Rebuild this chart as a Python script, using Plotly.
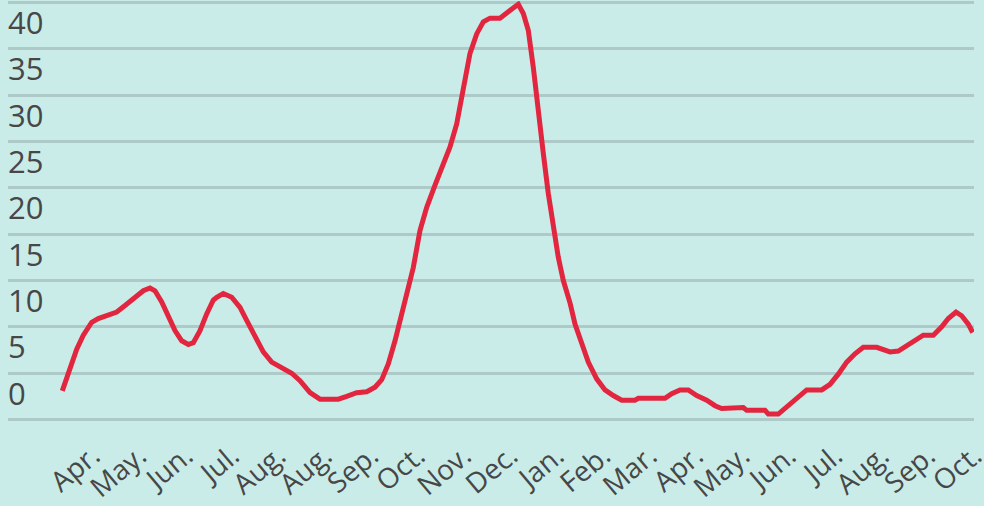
import plotly.graph_objects as go

# x position in months (0 = first "Apr." tick)
month_pos = [-0.468, -0.338, -0.157, -0.015, 0.166, 0.308, 0.489, 0.705, 0.884, 1.099,
             1.278, 1.422, 1.530, 1.675, 1.817, 1.961, 2.106, 2.248, 2.356, 2.500,
             2.644, 2.787, 2.860, 3.002, 3.183, 3.362, 3.506, 3.685, 3.864, 4.045,
             4.261, 4.476, 4.655, 4.871, 5.086, 5.302, 5.481, 5.662, 5.877, 6.093,
             6.271, 6.416, 6.558, 6.703, 6.810, 6.955, 7.097, 7.241, 7.386, 7.565,
             7.744, 7.888, 8.032, 8.174, 8.319, 8.463, 8.606, 8.750, 8.965, 9.144,
             9.360, 9.468, 9.575, 9.683, 9.791, 9.899, 10.006, 10.114, 10.222, 10.330,
             10.474, 10.582, 10.726, 10.868, 11.049, 11.228, 11.407, 11.588, 11.875, 11.946,
             12.521, 12.666, 12.845, 13.024, 13.205, 13.420, 13.599, 13.743, 14.209, 14.282,
             14.677, 14.748, 14.963, 15.108, 15.287, 15.575, 15.899, 16.078, 16.256, 16.437,
             16.616, 16.795, 17.084, 17.226, 17.371, 17.549, 17.731, 17.946, 18.088, 18.304,
             18.485, 18.627, 18.793, 18.916, 19.058, 19.153]
values = [3.1, 4.9, 7.6, 9.1, 10.5, 10.9, 11.2, 11.6, 12.3, 13.2,
          13.9, 14.2, 13.9, 12.7, 11.0, 9.6, 8.5, 8.1, 8.3, 9.6,
          11.4, 12.9, 13.2, 13.6, 13.2, 12.1, 10.7, 9.1, 7.3, 6.2,
          5.6, 5.0, 4.2, 2.9, 2.2, 2.2, 2.2, 2.5, 2.9, 3.0,
          3.5, 4.3, 6.0, 8.5, 10.7, 13.6, 16.4, 20.4, 22.9, 25.3,
          27.6, 29.4, 31.9, 35.9, 39.5, 41.6, 42.9, 43.3, 43.3, 44.0,
          44.8, 43.8, 42.0, 38.0, 33.0, 28.7, 24.4, 20.8, 17.5, 15.0,
          12.6, 10.3, 8.2, 6.2, 4.4, 3.2, 2.6, 2.1, 2.1, 2.3,
          2.3, 2.8, 3.2, 3.2, 2.6, 2.1, 1.5, 1.2, 1.3, 1.0,
          1.0, 0.6, 0.6, 1.2, 2.1, 3.2, 3.2, 3.8, 4.9, 6.2,
          7.1, 7.8, 7.8, 7.5, 7.3, 7.4, 8.0, 8.7, 9.1, 9.1,
          10.0, 10.9, 11.6, 11.2, 10.3, 9.4]

tick_labels = ["Apr.", "May.", "Jun.", "Jul.", "Aug.", "Aug.", "Sep.", "Oct.", "Nov.", "Dec.",
               "Jan.", "Feb.", "Mar.", "Apr.", "May.", "Jun.", "Jul.", "Aug.", "Sep.", "Oct."]
tick_pos = list(range(len(tick_labels)))

y_ticks = [0, 5, 10, 15, 20, 25, 30, 35, 40, 45]
y_tick_text = ["0", "5", "10", "15", "20", "25", "30", "35", "40", ""]

BG = "#c9ece8"
GRID = "#adc9c8"
TXT = "#474747"
FONT = "Open Sans"

fig = go.Figure()
fig.add_trace(go.Scatter(
    x=month_pos, y=values, mode="lines",
    line=dict(color="#e2263f", width=5),
    hoverinfo="skip", showlegend=False,
))

fig.update_layout(
    width=984, height=506,
    margin=dict(l=8, r=10, t=1, b=85),
    paper_bgcolor=BG, plot_bgcolor=BG,
    font=dict(family=FONT, color=TXT),
    showlegend=False,
)
fig.update_xaxes(
    range=[-1.638, 19.181],
    tickmode="array", tickvals=tick_pos, ticktext=tick_labels,
    tickangle=-40, tickfont=dict(size=28, color=TXT, family=FONT),
    ticklabelstandoff=12, ticklabelshift=9, ticklabeloverflow="allow",
    showgrid=False, zeroline=False, showline=False, ticks="",
    automargin=False,
)
fig.update_yaxes(
    range=[-0.15, 45.15],
    tickmode="array", tickvals=y_ticks, ticktext=y_tick_text,
    ticklabelposition="inside top", ticklabelstandoff=-3, ticklabelshift=-4,
    ticklabeloverflow="allow",
    tickfont=dict(size=31, color=TXT, family=FONT),
    showgrid=True, gridcolor=GRID, gridwidth=3,
    zeroline=False, showline=False, ticks="",
    automargin=False,
)

fig.write_html(
    "out.html",
    config={"displayModeBar": False},
    post_script="document.body.style.margin='0';document.body.style.padding='0';"
                "document.body.style.background='" + BG + "';",
)
